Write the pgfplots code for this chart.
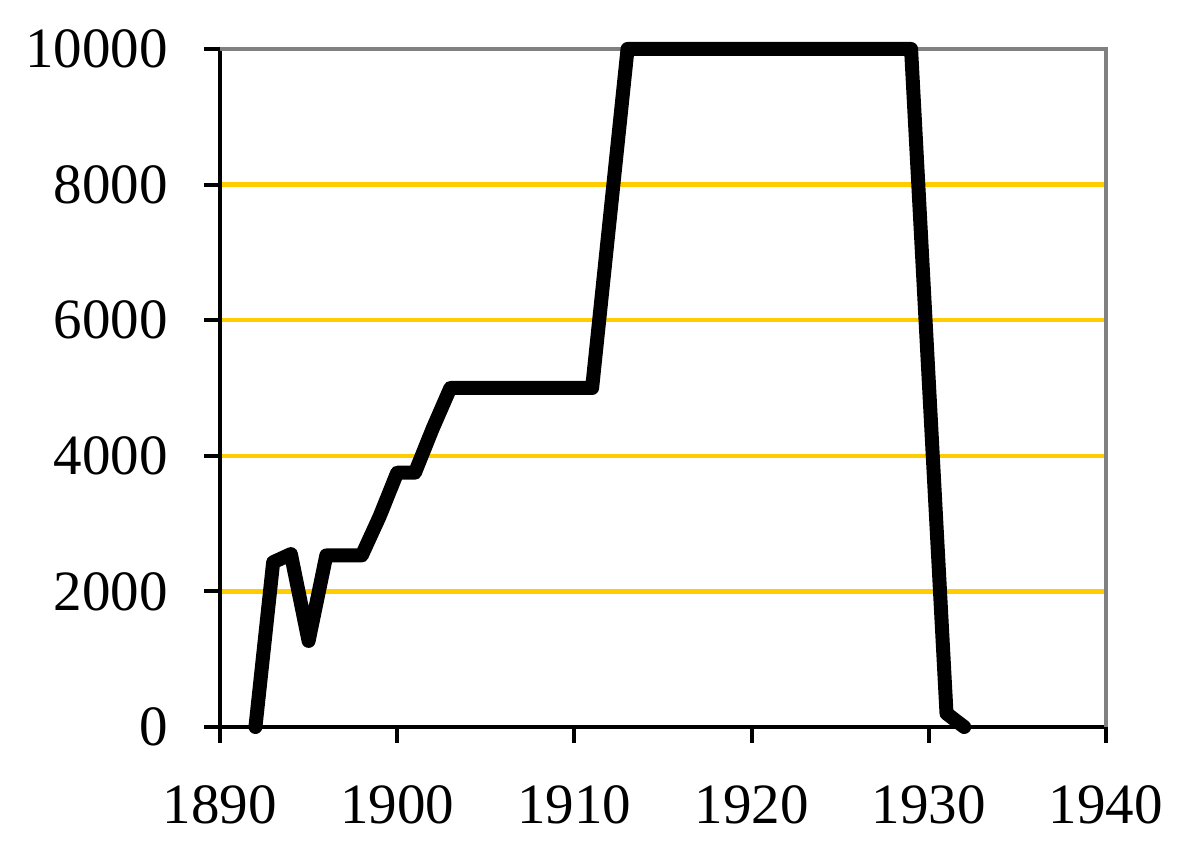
\documentclass[border=0pt]{standalone}
\usepackage{pgfplots}
\pgfplotsset{compat=1.18}
\usepackage{fontspec}
\setmainfont{Liberation Serif}
\definecolor{gridgold}{HTML}{FFCC00}
\definecolor{framegray}{HTML}{808080}
\begin{document}
\begin{tikzpicture}
\begin{axis}[
  scale only axis,
  width=443pt, height=339pt,
  xmin=1890, xmax=1940, ymin=0, ymax=10000,
  xtick={1890,1900,1910,1920,1930,1940},
  ytick={0,2000,4000,6000,8000,10000},
  scaled ticks=false,
  axis lines*=left,
  axis line style={black, line width=2pt},
  tick style={black, line width=2pt},
  tick align=outside,
  major tick length=8pt,
  ymajorgrids,
  major grid style={gridgold, line width=2.2pt},
  xticklabel={\pgfmathprintnumber[1000 sep={},assume math mode=true]{\tick}},
  yticklabel={\pgfmathprintnumber[1000 sep={},assume math mode=true]{\tick}},
  tick label style={font=\fontsize{28.5}{34}\selectfont},
  xticklabel style={inner sep=0pt, anchor=north, yshift=-21pt},
  yticklabel style={inner sep=0pt, anchor=east, xshift=-18pt},
  clip=false,
]
\coordinate (sw) at (rel axis cs:0,0);
\draw[framegray, line width=2pt] (rel axis cs:0,1) -- (rel axis cs:1,1) -- (rel axis cs:1,0);
\addplot[black, line width=7pt, line join=round, line cap=round] coordinates {
(1892,0) (1893,2430) (1894,2550) (1895,1270) (1896,2530) (1897,2530) (1898,2530)
(1899,3100) (1900,3750) (1901,3750) (1902,4400) (1903,5000) (1904,5000) (1905,5000)
(1906,5000) (1907,5000) (1908,5000) (1909,5000) (1910,5000) (1911,5000) (1912,7500)
(1913,10000) (1914,10000) (1915,10000) (1916,10000) (1917,10000) (1918,10000)
(1919,10000) (1920,10000) (1921,10000) (1922,10000) (1923,10000) (1924,10000)
(1925,10000) (1926,10000) (1927,10000) (1928,10000) (1929,10000) (1930,5100)
(1931,200) (1932,0)
};
\end{axis}
\useasboundingbox (sw) ++(-110pt,-67.5pt) rectangle ++(595pt,431pt);
\end{tikzpicture}
\end{document}
